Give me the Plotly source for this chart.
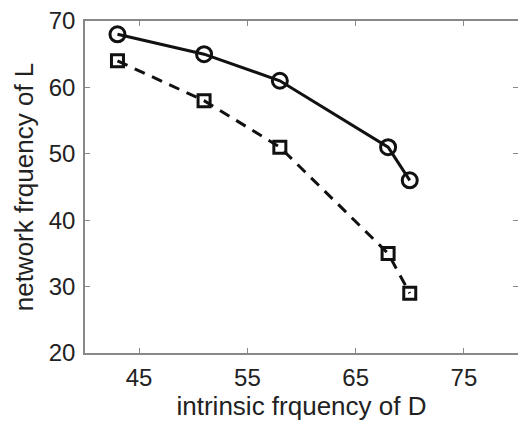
import plotly.graph_objects as go

# intrinsic frequency of D
d_freq = [43, 51, 58, 68, 70]
# network frequency of L
circle_vals = [68, 65, 61, 51, 46]
square_vals = [64, 58, 51, 35, 29]

fig = go.Figure()

fig.add_trace(go.Scatter(
    x=d_freq, y=circle_vals,
    mode="lines+markers",
    line=dict(color="#111111", width=3),
    marker=dict(symbol="circle-open", size=15, color="#111111", line=dict(width=3)),
))
fig.add_trace(go.Scatter(
    x=d_freq, y=square_vals,
    mode="lines+markers",
    line=dict(color="#111111", width=3, dash="11px,8px"),
    marker=dict(symbol="square-open", size=12, color="#111111", line=dict(width=3)),
))

font_family = "Liberation Sans, Arial"
axis_style = dict(
    showline=True, linecolor="#888888", linewidth=1.5, mirror="ticks",
    ticks="inside", ticklen=5, tickcolor="#888888",
    showgrid=False, zeroline=False, automargin=False,
    tickfont=dict(family=font_family, size=24, color="#222222"),
    title_font=dict(family=font_family, size=26, color="#222222"),
)

fig.update_layout(
    width=518, height=422,
    margin=dict(l=85, r=0, t=21, b=69),
    plot_bgcolor="white", paper_bgcolor="white",
    showlegend=False,
    xaxis=dict(range=[40, 80], tickvals=[45, 55, 65, 75], ticklabelstandoff=2,
               title=dict(text="intrinsic frquency of D", standoff=2), **axis_style),
    yaxis=dict(range=[20, 70], tickvals=[20, 30, 40, 50, 60, 70], ticklabelstandoff=3,
               title=dict(text="network frquency of L", standoff=8), **axis_style),
)

# drop the page's default body margin so the figure sits at the top-left corner
fig.write_html("out.html", config={"displayModeBar": False},
               post_script="document.body.style.margin='0';")
